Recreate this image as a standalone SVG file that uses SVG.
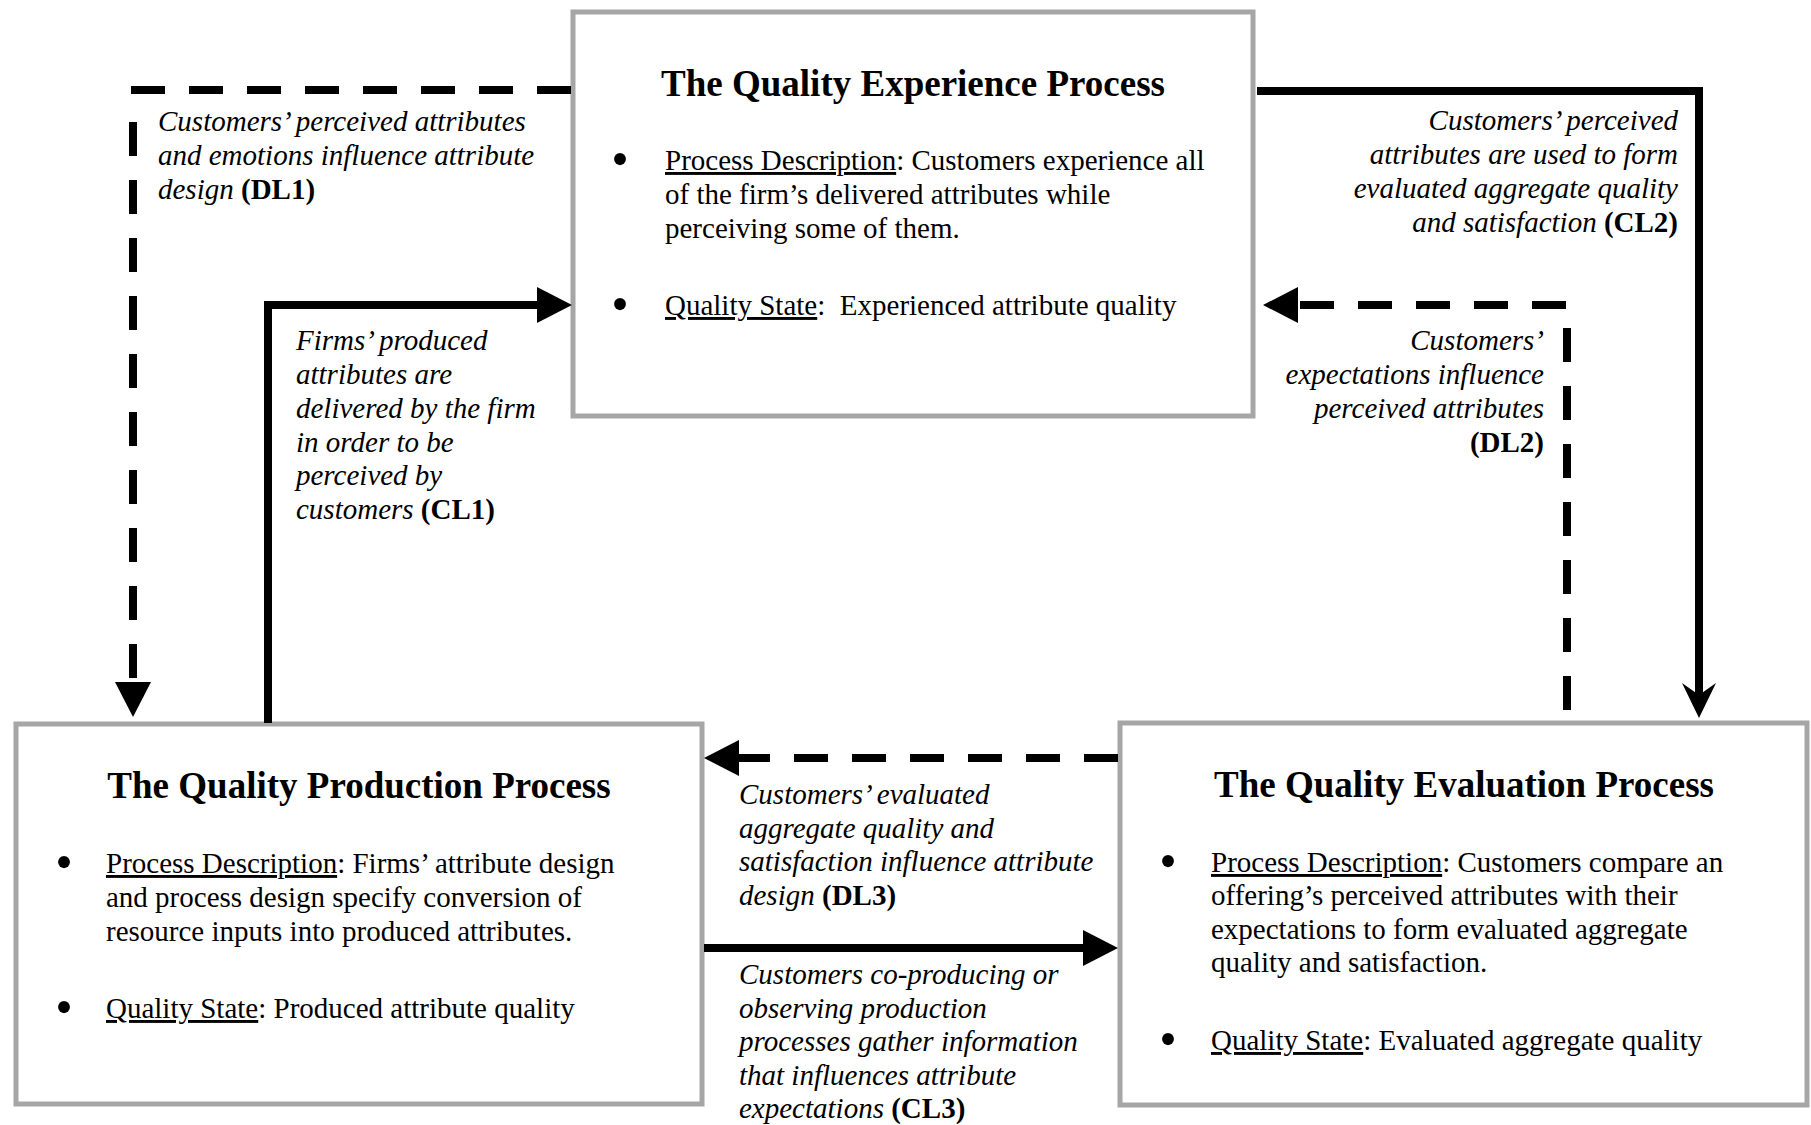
<svg xmlns="http://www.w3.org/2000/svg" width="1811" height="1125" viewBox="0 0 1811 1125">
<style>
.box{fill:#fff;stroke:#a6a6a6;stroke-width:5}
text{font-family:"Liberation Serif","Times New Roman",serif;fill:#000}
.title{font-weight:bold;font-size:37px;text-anchor:middle}
.body{font-size:29px}
.bul{font-size:50px;text-anchor:middle}
.lbl{font-style:italic;font-size:29px}
.end{text-anchor:end}
.b{font-weight:bold;font-style:normal}
.u{text-decoration:underline}
.solid{fill:none;stroke:#000;stroke-width:8;stroke-linejoin:miter;stroke-linecap:butt}
.dash{fill:none;stroke:#000;stroke-width:8;stroke-dasharray:34 24;stroke-linecap:butt}
</style>
<defs>
<marker id="tri" viewBox="0 0 35 36" refX="0" refY="18" markerWidth="35" markerHeight="36" markerUnits="userSpaceOnUse" orient="auto">
<path d="M0,0 L35,18 L0,36 Z" fill="#000"/>
</marker>
<marker id="notch" viewBox="0 0 35 34" refX="17" refY="17" markerWidth="35" markerHeight="34" markerUnits="userSpaceOnUse" orient="auto">
<path d="M0,0 L35,17 L0,34 L12,17 Z" fill="#000"/>
</marker>
</defs>
<rect width="1811" height="1125" fill="#fff"/>

<g id="experience">
<rect class="box" x="573" y="12" width="680" height="404"/>
<text class="title" x="913" y="96">The Quality Experience Process</text>
<text class="bul" x="620" y="176">•</text>
<text class="body" x="665" y="170"><tspan class="u">Process Description</tspan>: Customers experience all</text>
<text class="body" x="665" y="204">of the firm’s delivered attributes while</text>
<text class="body" x="665" y="238">perceiving some of them.</text>
<text class="bul" x="620" y="321">•</text>
<text class="body" x="665" y="315"><tspan class="u">Quality State</tspan>:&#160; Experienced attribute quality</text>
</g>

<g id="production">
<rect class="box" x="16" y="724" width="686" height="380"/>
<text class="title" x="359" y="798">The Quality Production Process</text>
<text class="bul" x="64" y="879">•</text>
<text class="body" x="106" y="873"><tspan class="u">Process Description</tspan>: Firms’ attribute design</text>
<text class="body" x="106" y="907">and process design specify conversion of</text>
<text class="body" x="106" y="941">resource inputs into produced attributes.</text>
<text class="bul" x="64" y="1024">•</text>
<text class="body" x="106" y="1018"><tspan class="u">Quality State</tspan>: Produced attribute quality</text>
</g>

<g id="evaluation">
<rect class="box" x="1120" y="723" width="687" height="382"/>
<text class="title" x="1464" y="797">The Quality Evaluation Process</text>
<text class="bul" x="1168" y="878">•</text>
<text class="body" x="1211" y="872"><tspan class="u">Process Description</tspan>: Customers compare an</text>
<text class="body" x="1211" y="905">offering’s perceived attributes with their</text>
<text class="body" x="1211" y="939">expectations to form evaluated aggregate</text>
<text class="body" x="1211" y="972">quality and satisfaction.</text>
<text class="bul" x="1168" y="1056">•</text>
<text class="body" x="1211" y="1050"><tspan class="u">Quality State</tspan>: Evaluated aggregate quality</text>
</g>

<g id="connectors">
<g id="DL1">
<path class="dash" d="M571,90 H129"/>
<path class="dash" d="M133,98 V682" stroke-dashoffset="34" marker-end="url(#tri)"/>
<text class="lbl" x="158" y="131">Customers’ perceived attributes</text>
<text class="lbl" x="158" y="165">and emotions influence attribute</text>
<text class="lbl" x="158" y="199">design <tspan class="b">(DL1)</tspan></text>
</g>
<g id="CL1">
<path class="solid" d="M268,723 V305 H537" marker-end="url(#tri)"/>
<text class="lbl" x="296" y="350">Firms’ produced</text>
<text class="lbl" x="296" y="384">attributes are</text>
<text class="lbl" x="296" y="418">delivered by the firm</text>
<text class="lbl" x="296" y="452">in order to be</text>
<text class="lbl" x="296" y="485">perceived by</text>
<text class="lbl" x="296" y="519">customers <tspan class="b">(CL1)</tspan></text>
</g>
<g id="CL2">
<path class="solid" d="M1257,91 H1699 V700" marker-end="url(#notch)"/>
<text class="lbl end" x="1678" y="130">Customers’ perceived</text>
<text class="lbl end" x="1678" y="164">attributes are used to form</text>
<text class="lbl end" x="1678" y="198">evaluated aggregate quality</text>
<text class="lbl end" x="1678" y="232">and satisfaction <tspan class="b">(CL2)</tspan></text>
</g>
<g id="DL2">
<path class="dash" d="M1567,710 V305 H1298" marker-end="url(#tri)"/>
<text class="lbl end" x="1544" y="350">Customers’</text>
<text class="lbl end" x="1544" y="384">expectations influence</text>
<text class="lbl end" x="1544" y="418">perceived attributes</text>
<text class="lbl end" x="1544" y="452"><tspan class="b">(DL2)</tspan></text>
</g>
<g id="DL3">
<path class="dash" d="M1118,758 H739" marker-end="url(#tri)"/>
<text class="lbl" x="739" y="804">Customers’ evaluated</text>
<text class="lbl" x="739" y="838">aggregate quality and</text>
<text class="lbl" x="739" y="871">satisfaction influence attribute</text>
<text class="lbl" x="739" y="905">design <tspan class="b">(DL3)</tspan></text>
</g>
<g id="CL3">
<path class="solid" d="M704,948 H1083" marker-end="url(#tri)"/>
<text class="lbl" x="739" y="984">Customers co-producing or</text>
<text class="lbl" x="739" y="1018">observing production</text>
<text class="lbl" x="739" y="1051">processes gather information</text>
<text class="lbl" x="739" y="1085">that influences attribute</text>
<text class="lbl" x="739" y="1118">expectations <tspan class="b">(CL3)</tspan></text>
</g>
</g>
</svg>
